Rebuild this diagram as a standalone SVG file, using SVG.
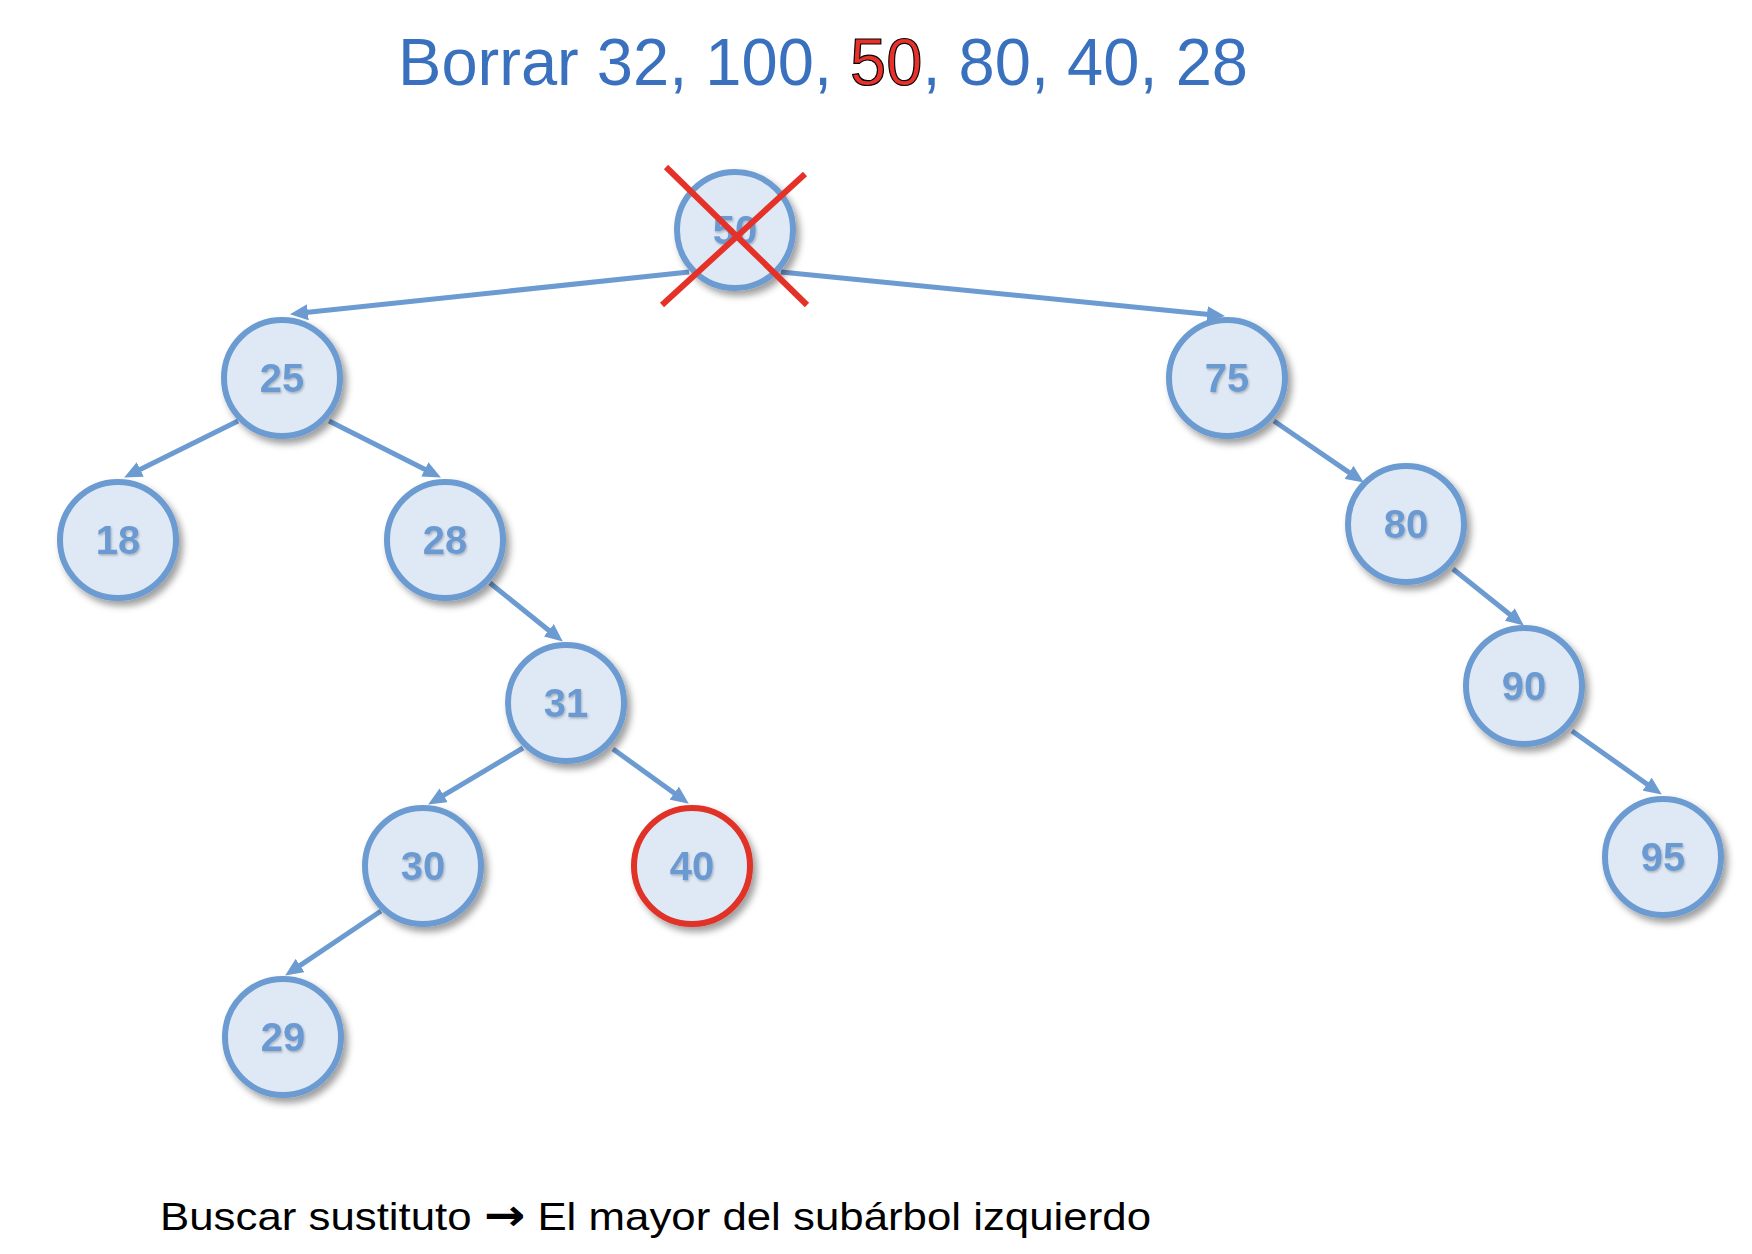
<svg xmlns="http://www.w3.org/2000/svg" width="1752" height="1254" viewBox="0 0 1752 1254">
<defs>
<style>
.node circle{fill:#DFE9F5;stroke:#6C9BD2;stroke-width:6}
.node text{font-family:"Liberation Sans",Arial,sans-serif;font-weight:bold;font-size:40px;fill:#6A9AD1;text-anchor:middle}
.edge{stroke:#6C9BD2;stroke-width:5;fill:none;marker-end:url(#arr)}
.cross{stroke:#E53228;stroke-width:6}
</style>
<filter id="sh" x="-30%" y="-30%" width="170%" height="170%">
<feDropShadow dx="4" dy="5" stdDeviation="3.5" flood-color="#000" flood-opacity="0.38"/>
</filter>
<filter id="tsh" x="-20%" y="-20%" width="140%" height="140%">
<feDropShadow dx="1" dy="1.5" stdDeviation="1" flood-color="#000" flood-opacity="0.25"/>
</filter>
<marker id="arr" markerUnits="userSpaceOnUse" markerWidth="18" markerHeight="16" refX="7" refY="8" orient="auto">
<path d="M0,0 L18,8 L0,16 z" fill="#6C9BD2"/>
</marker>
</defs>
<rect width="1752" height="1254" fill="#fff"/>
<text id="title" x="398" y="85" font-family="Liberation Sans,Arial,sans-serif" font-size="66" fill="#3A71BE" textLength="850" lengthAdjust="spacingAndGlyphs">Borrar 32, 100, <tspan fill="#E8312A" stroke="#000" stroke-width="1.2">50</tspan>, 80, 40, 28</text>
<g id="connectors">
<line class="edge" x1="689" y1="272" x2="300.9" y2="313"/>
<line class="edge" x1="781" y1="272" x2="1214" y2="315"/>
<line class="edge" x1="238" y1="421" x2="134" y2="472.6"/>
<line class="edge" x1="329" y1="421" x2="431.1" y2="472.5"/>
<line class="edge" x1="490" y1="583" x2="554.2" y2="634.7"/>
<line class="edge" x1="523" y1="748" x2="437.6" y2="798.9"/>
<line class="edge" x1="613" y1="749" x2="679.9" y2="797.2"/>
<line class="edge" x1="381" y1="911" x2="294.3" y2="969.4"/>
<line class="edge" x1="1274" y1="421" x2="1354.75" y2="476.35"/>
<line class="edge" x1="1453" y1="569" x2="1515.2" y2="618.75"/>
<line class="edge" x1="1572" y1="731" x2="1652.8" y2="788.2"/>
</g>
<g id="n50" class="node"><circle cx="735" cy="230" r="58" filter="url(#sh)"/><text x="735" y="244" filter="url(#tsh)">50</text></g>
<g id="n25" class="node"><circle cx="282" cy="378" r="58" filter="url(#sh)"/><text x="282" y="392" filter="url(#tsh)">25</text></g>
<g id="n75" class="node"><circle cx="1227" cy="378" r="58" filter="url(#sh)"/><text x="1227" y="392" filter="url(#tsh)">75</text></g>
<g id="n18" class="node"><circle cx="118" cy="540" r="58" filter="url(#sh)"/><text x="118" y="554" filter="url(#tsh)">18</text></g>
<g id="n28" class="node"><circle cx="445" cy="540" r="58" filter="url(#sh)"/><text x="445" y="554" filter="url(#tsh)">28</text></g>
<g id="n31" class="node"><circle cx="566" cy="703" r="58" filter="url(#sh)"/><text x="566" y="717" filter="url(#tsh)">31</text></g>
<g id="n80" class="node"><circle cx="1406" cy="524" r="58" filter="url(#sh)"/><text x="1406" y="538" filter="url(#tsh)">80</text></g>
<g id="n90" class="node"><circle cx="1524" cy="686" r="58" filter="url(#sh)"/><text x="1524" y="700" filter="url(#tsh)">90</text></g>
<g id="n30" class="node"><circle cx="423" cy="866" r="58" filter="url(#sh)"/><text x="423" y="880" filter="url(#tsh)">30</text></g>
<g id="n40" class="node"><circle cx="692" cy="866" r="58" filter="url(#sh)" style="stroke:#E03025"/><text x="692" y="880" filter="url(#tsh)">40</text></g>
<g id="n95" class="node"><circle cx="1663" cy="857" r="58" filter="url(#sh)"/><text x="1663" y="871" filter="url(#tsh)">95</text></g>
<g id="n29" class="node"><circle cx="283" cy="1037" r="58" filter="url(#sh)"/><text x="283" y="1051" filter="url(#tsh)">29</text></g>
<g id="cross">
<line class="cross" x1="666" y1="167" x2="807" y2="305"/>
<line class="cross" x1="805" y1="174" x2="662" y2="305"/>
</g>
<text id="note" x="160" y="1230" font-family="Liberation Sans,Arial,sans-serif" font-size="39" fill="#000" textLength="991" lengthAdjust="spacingAndGlyphs">Buscar sustituto <tspan font-family="DejaVu Sans,sans-serif" font-weight="bold" font-size="44">→</tspan> El mayor del subárbol izquierdo</text>
</svg>
